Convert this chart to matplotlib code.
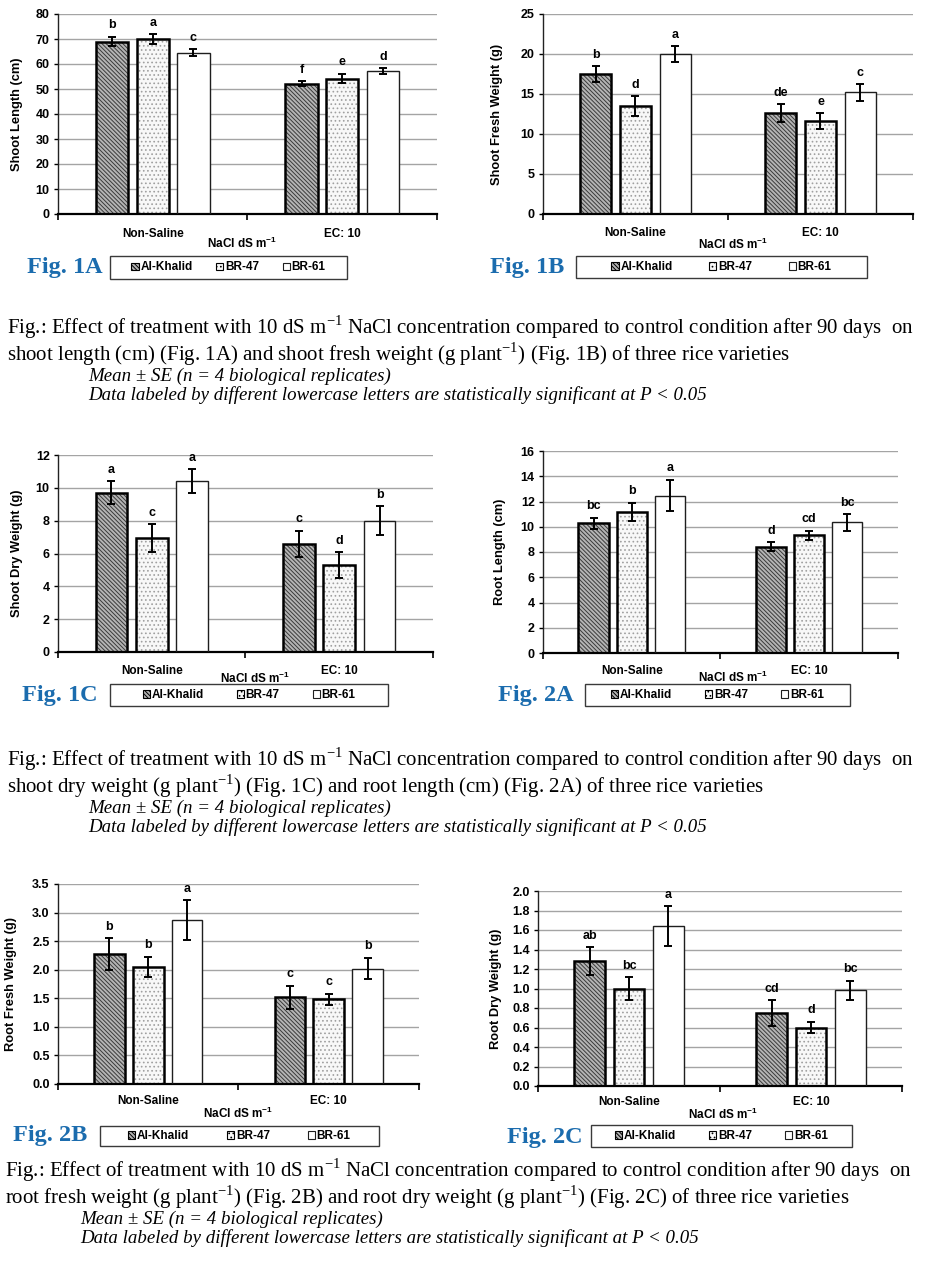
import matplotlib
matplotlib.use('Agg')
import matplotlib.pyplot as plt
from matplotlib.patches import Patch, Rectangle
from matplotlib.ticker import MultipleLocator, FormatStrFormatter

# ---------------- data ----------------
treatments = ['Non-Saline', 'EC: 10']
varieties = ['Al-Khalid', 'BR-47', 'BR-61']

# rows = varieties (Al-Khalid, BR-47, BR-61), columns = treatments
shoot_length_mean = [[69.0, 52.2], [70.0, 54.2], [64.6, 57.3]]
shoot_length_se = [[1.9, 0.9], [2.0, 1.9], [1.3, 1.1]]
shoot_length_letters = [['b', 'f'], ['a', 'e'], ['c', 'd']]

shoot_fresh_mean = [[17.5, 12.6], [13.5, 11.6], [20.0, 15.2]]
shoot_fresh_se = [[0.95, 1.1], [1.25, 1.0], [0.95, 1.05]]
shoot_fresh_letters = [['b', 'de'], ['d', 'e'], ['a', 'c']]

shoot_dry_mean = [[9.7, 6.6], [6.95, 5.3], [10.4, 8.0]]
shoot_dry_se = [[0.7, 0.8], [0.83, 0.8], [0.73, 0.9]]
shoot_dry_letters = [['a', 'c'], ['c', 'd'], ['a', 'b']]

root_length_mean = [[10.27, 8.42], [11.18, 9.32], [12.47, 10.35]]
root_length_se = [[0.45, 0.34], [0.72, 0.38], [1.25, 0.67]]
root_length_letters = [['bc', 'd'], ['b', 'cd'], ['a', 'bc']]

root_fresh_mean = [[2.27, 1.52], [2.05, 1.48], [2.87, 2.02]]
root_fresh_se = [[0.28, 0.2], [0.18, 0.1], [0.35, 0.19]]
root_fresh_letters = [['b', 'c'], ['b', 'c'], ['a', 'b']]

root_dry_mean = [[1.28, 0.75], [1.0, 0.6], [1.64, 0.98]]
root_dry_se = [[0.145, 0.13], [0.115, 0.06], [0.205, 0.1]]
root_dry_letters = [['ab', 'cd'], ['bc', 'd'], ['a', 'bc']]

# ---------------- figure ----------------
W, H, DPI = 945, 1270, 100
SANS = ['Liberation Sans', 'DejaVu Sans']
SERIF = ['Liberation Serif', 'DejaVu Serif']
plt.rcParams['hatch.linewidth'] = 0.7
plt.rcParams['font.family'] = SANS

fig = plt.figure(figsize=(W / DPI, H / DPI), dpi=DPI)
fig.patch.set_facecolor('white')


def rect(l, t, r, b):
    return [l / W, 1 - b / H, (r - l) / W, (b - t) / H]


styles = [
    dict(face='#b4b4b4', hatch='\\' * 8, hcolor='#3a3a3a', edge='black', lw=1.8),
    dict(face='#f8f8f8', hatch='.' * 4, hcolor='#a0a0a0', edge='black', lw=1.8),
    dict(face='white', hatch=None, hcolor='white', edge='#1e1e1e', lw=1.0),
]
offsets = [-0.215, 0.0, 0.215]
bar_w = 0.17
FIGBLUE = '#1b6cae'
XLAB = r'NaCl dS m$^{\mathregular{-1}}$'

panels = [
    dict(mean=shoot_length_mean, se=shoot_length_se, let=shoot_length_letters,
         ylabel='Shoot Length (cm)', ymax=80, step=10, fmt='%d',
         box=(58, 14, 437, 214), cat_off=16, xl=(242, 29), ylx=23,
         leg=(110, 256, 347, 279), cs=2.2, tag=('Fig. 1A', 27, 267)),
    dict(mean=shoot_fresh_mean, se=shoot_fresh_se, let=shoot_fresh_letters,
         ylabel='Shoot Fresh Weight (g)', ymax=25, step=5, fmt='%d',
         box=(543, 14, 913, 214), cat_off=15, xl=(733, 30), ylx=503,
         leg=(576, 256, 867, 278), cs=3.3, tag=('Fig. 1B', 490, 267)),
    dict(mean=shoot_dry_mean, se=shoot_dry_se, let=shoot_dry_letters,
         ylabel='Shoot Dry Weight (g)', ymax=12, step=2, fmt='%d',
         box=(58, 455, 433, 652), cat_off=15, xl=(255, 26), ylx=23,
         leg=(110, 684, 388, 706), cs=3.0, tag=('Fig. 1C', 22, 695)),
    dict(mean=root_length_mean, se=root_length_se, let=root_length_letters,
         ylabel='Root Length (cm)', ymax=16, step=2, fmt='%d',
         box=(543, 451, 898, 653), cat_off=15, xl=(733, 24), ylx=506,
         leg=(585, 684, 850, 706), cs=3.0, tag=('Fig. 2A', 498, 695)),
    dict(mean=root_fresh_mean, se=root_fresh_se, let=root_fresh_letters,
         ylabel='Root Fresh Weight (g)', ymax=3.5, step=0.5, fmt='%.1f',
         box=(58, 884, 419, 1084), cat_off=14, xl=(238, 29), ylx=17,
         leg=(100, 1126, 379, 1146), cs=3.4, tag=('Fig. 2B', 13, 1135)),
    dict(mean=root_dry_mean, se=root_dry_se, let=root_dry_letters,
         ylabel='Root Dry Weight (g)', ymax=2.0, step=0.2, fmt='%.1f',
         box=(538, 891, 902, 1086), cat_off=13, xl=(723, 28), ylx=502,
         leg=(591, 1125, 852, 1147), cs=3.0, tag=('Fig. 2C', 507, 1137)),
]

for p in panels:
    l, t, r, b = p['box']
    ax = fig.add_axes(rect(l, t, r, b))
    ax.set_facecolor('none')
    aw, ah = r - l, b - t
    x = [0, 1]
    for i, st in enumerate(styles):
        xs = [xi + offsets[i] for xi in x]
        ax.bar(xs, p['mean'][i], width=bar_w, color=st['face'], hatch=st['hatch'],
               edgecolor=st['hcolor'], linewidth=0, zorder=2)
        ax.bar(xs, p['mean'][i], width=bar_w, fill=False,
               edgecolor=st['edge'], linewidth=st['lw'], zorder=3)
        ax.errorbar(xs, p['mean'][i], yerr=p['se'][i], fmt='none', ecolor='black',
                    elinewidth=1.4, capsize=3, capthick=1.4, zorder=4)
        for xx, m, s, lt in zip(xs, p['mean'][i], p['se'][i], p['let'][i]):
            ax.annotate(lt, (xx, m + s), xytext=(0, 6), textcoords='offset points',
                        ha='center', va='baseline', fontsize=9, fontweight='bold',
                        family=SANS)
    ax.set_xlim(-0.5, 1.5)
    ax.set_ylim(0, p['ymax'])
    ax.yaxis.set_major_locator(MultipleLocator(p['step']))
    ax.yaxis.set_major_formatter(FormatStrFormatter(p['fmt']))
    ax.yaxis.grid(True, color='#a4a4a4', linewidth=1.0, zorder=0)
    ax.set_axisbelow(True)
    for sp in ['top', 'right']:
        ax.spines[sp].set_visible(False)
    ax.spines['left'].set_color('#222222')
    ax.spines['left'].set_linewidth(1.0)
    ax.spines['bottom'].set_color('black')
    ax.spines['bottom'].set_linewidth(1.6)
    ax.tick_params(axis='y', length=3, width=1.0, pad=3, labelsize=9)
    for lab in ax.get_yticklabels():
        lab.set_fontweight('bold')
    ax.set_xticks(x)
    ax.set_xticklabels(treatments, fontsize=8.5, fontweight='bold')
    ax.tick_params(axis='x', which='major', length=0, pad=p['cat_off'] - 6)
    ax.set_xticks([-0.5, 0.5, 1.5], minor=True)
    ax.tick_params(axis='x', which='minor', length=4, width=1.2, direction='out')
    ax.set_ylabel(p['ylabel'], fontsize=9.3, fontweight='bold')
    ax.yaxis.set_label_coords((p['ylx'] - l) / aw, 0.5)
    ax.set_xlabel(XLAB, fontsize=8.5, fontweight='bold')
    xl_x, xl_off = p['xl']
    ax.xaxis.set_label_coords((xl_x - l) / aw, -xl_off / ah)
    ax.xaxis.label.set_va('center')

    # legend box
    ll, lt_, lr, lb = p['leg']
    fig.patches.append(Rectangle((ll / W, 1 - lb / H), (lr - ll) / W, (lb - lt_) / H,
                                 transform=fig.transFigure, fill=False,
                                 edgecolor='#3a3a3a', linewidth=1.0))
    handles = [Patch(facecolor=st['face'], hatch=st['hatch'], edgecolor=st['edge'],
                     linewidth=0.8, label=v) for st, v in zip(styles, varieties)]
    fig.legend(handles=handles, loc='center',
               bbox_to_anchor=((ll + lr) / 2 / W, 1 - (lt_ + lb) / 2 / H),
               ncol=3, frameon=False, prop=dict(family=SANS, weight='bold', size=8.5),
               handlelength=0.6, handleheight=0.6, handletextpad=0.15,
               columnspacing=p['cs'] - 0.2, borderpad=0, borderaxespad=0)

    tag, tx, ty = p['tag']
    fig.text(tx / W, 1 - ty / H, tag, ha='left', va='center', family=SERIF,
             fontweight='bold', fontsize=17.5, color=FIGBLUE)

# ---------------- captions ----------------
SUP = r'$^{\mathregular{-1}}$'
line1 = ('Fig.: Effect of treatment with 10 dS m' + SUP +
         ' NaCl concentration compared to control condition after 90 days  on')
caps = [
    (330, 'shoot length (cm) (Fig. 1A) and shoot fresh weight (g plant' + SUP +
     ') (Fig. 1B) of three rice varieties'),
    (762, 'shoot dry weight (g plant' + SUP +
     ') (Fig. 1C) and root length (cm) (Fig. 2A) of three rice varieties'),
    (1173, 'root fresh weight (g plant' + SUP + ') (Fig. 2B) and root dry weight (g plant' +
     SUP + ') (Fig. 2C) of three rice varieties'),
]
ital = ('Mean \u00b1 SE (n = 4 biological replicates)\n'
        'Data labeled by different lowercase letters are statistically significant at P < 0.05')

for (y0, l2), xl_, xi in zip(caps, [7, 7, 5], [88, 88, 80]):
    fig.text(xl_ / W, 1 - (y0 + 11) / H, line1 + '\n' + l2, ha='left', va='center',
             family=SERIF, fontsize=15, color='black', linespacing=0.98)
    fig.text(xi / W, 1 - (y0 + 56) / H, ital, ha='left', va='center', family=SERIF,
             style='italic', fontsize=13.6, color='black', linespacing=1.12)

fig.savefig('out.png', dpi=DPI, facecolor='white')
